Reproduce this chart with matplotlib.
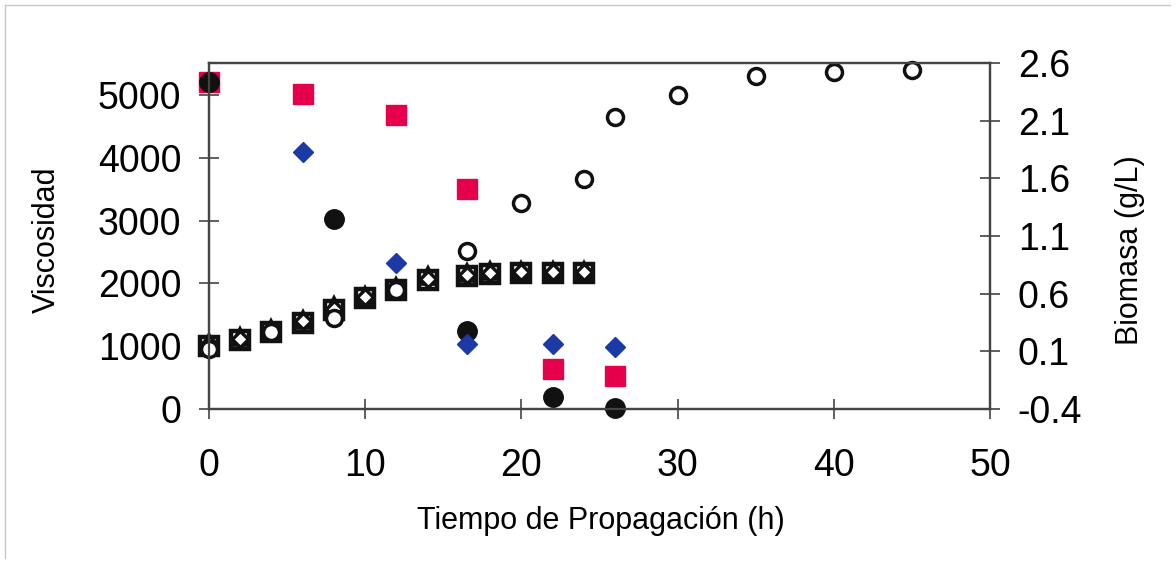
import numpy as np
import matplotlib
matplotlib.use("Agg")
import matplotlib.pyplot as plt
from matplotlib.ticker import FormatStrFormatter
from matplotlib.lines import Line2D

plt.rcParams['font.family'] = ['Liberation Sans', 'DejaVu Sans']
plt.rcParams['axes.unicode_minus'] = False

# Viscosidad (eje izquierdo)
t_visc_rojo = [0, 6, 12, 16.5, 22, 26]
visc_rojo = [5200, 5020, 4680, 3500, 640, 530]

t_visc_azul = [6, 12, 16.5, 22, 26]
visc_azul = [4100, 2320, 1040, 1040, 985]

t_visc_negro = [0, 8, 16.5, 22, 26]
visc_negro = [5200, 3020, 1250, 195, 15]

# Biomasa (eje derecho)
t_bio = [0, 2, 4, 6, 8, 10, 12, 14, 16.5, 18, 20, 22, 24]
bio_cuad = [0.15, 0.20, 0.27, 0.35, 0.46, 0.56, 0.63, 0.72, 0.75, 0.77, 0.78, 0.78, 0.78]
bio_rombo = [0.16, 0.21, 0.28, 0.36, 0.47, 0.57, 0.64, 0.73, 0.76, 0.78, 0.79, 0.79, 0.79]
bio_tri = [0.17, 0.22, 0.29, 0.37, 0.49, 0.58, 0.66, 0.75, 0.78, 0.80, 0.80, 0.80, 0.80]

t_bio_circ = [0, 4, 8, 12, 16.5, 20, 24, 26, 30, 35, 40, 45]
bio_circ = [0.12, 0.27, 0.39, 0.63, 0.97, 1.39, 1.59, 2.13, 2.32, 2.49, 2.52, 2.54]

rojo = '#E6004C'
azul = '#1C3AA6'
negro = '#111111'
gris = '#444444'

fig = plt.figure(figsize=(11.76, 5.75), dpi=100)
ax = fig.add_axes([209 / 1176, 1 - 409 / 575, 781 / 1176, 346 / 575])
ax2 = ax.twinx()

ax.plot(t_visc_rojo, visc_rojo, ls='none', marker='s', ms=14.4, color=rojo, mec=rojo, clip_on=False, zorder=3)
ax.plot(t_visc_negro, visc_negro, ls='none', marker='o', ms=14, color=negro, mec=negro, clip_on=False, zorder=4)
ax.plot(t_visc_azul, visc_azul, ls='none', marker='D', ms=10.5, color=azul, mec=azul, clip_on=False, zorder=5)

abiertos = dict(ls='none', mfc='white', mec=negro, clip_on=False)
ax2.plot(t_bio, bio_cuad, marker='s', ms=12.5, mew=3.2, **abiertos)
ax2.plot(t_bio, bio_tri, marker='^', ms=12, mew=2.6, **abiertos)
ax2.plot(t_bio, bio_rombo, marker='D', ms=8, mew=2.4, **abiertos)
ax2.plot(t_bio_circ, bio_circ, marker='o', ms=11.5, mew=2.5, **abiertos)

ax.set_xlim(0, 50)
ax.set_ylim(0, 5510)
ax2.set_ylim(-0.4, 2.6)
ax.set_xticks(np.arange(0, 51, 10))
ax.set_yticks(np.arange(0, 5001, 1000))
ax2.set_yticks(np.arange(-0.4, 2.61, 0.5))
ax2.yaxis.set_major_formatter(FormatStrFormatter('%.1f'))

for a in (ax, ax2):
    for s in a.spines.values():
        s.set_color(gris)
        s.set_linewidth(1.6)
ax.tick_params(axis='both', direction='inout', length=14, width=1.2, color=gris, labelsize=27)
ax.tick_params(axis='x', pad=21)
ax.tick_params(axis='y', pad=13)
ax2.tick_params(axis='y', direction='inout', length=14, width=1.2, color=gris, labelsize=27, pad=13)

fig.text(601 / 1176, 1 - 521 / 575, 'Tiempo de Propagación (h)', ha='center', va='center', fontsize=22)
fig.text(47 / 1176, 1 - 240 / 575, 'Viscosidad', ha='center', va='center', rotation=90, fontsize=22)
fig.text(1130 / 1176, 1 - 250 / 575, 'Biomasa (g/L)', ha='center', va='center', rotation=90, fontsize=22)

# marco exterior
fig.add_artist(Line2D([5 / 1176, 5 / 1176], [0.03, 1 - 5 / 575], transform=fig.transFigure, color='#c8c8c8', lw=1))
fig.add_artist(Line2D([5 / 1176, 0.995], [1 - 5 / 575, 1 - 5 / 575], transform=fig.transFigure, color='#c8c8c8', lw=1))

fig.savefig('out.png', dpi=100)
